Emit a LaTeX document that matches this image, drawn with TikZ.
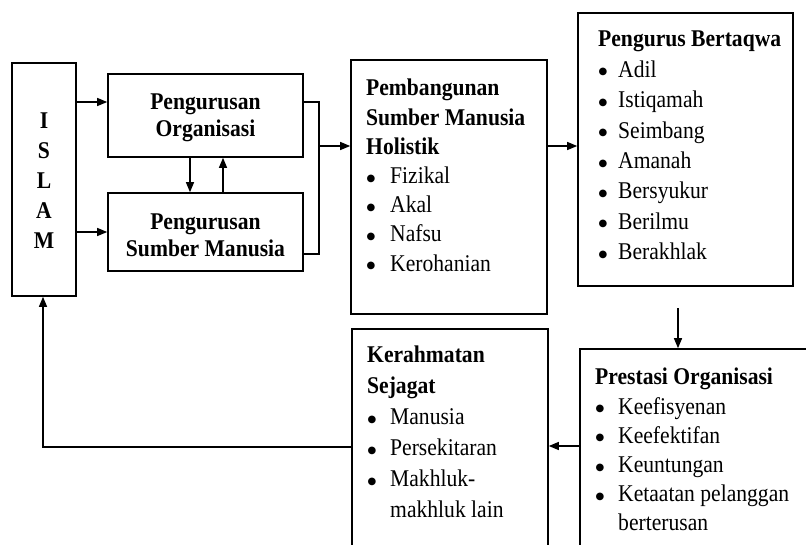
\documentclass[tikz,border=0pt]{standalone}
\usepackage{fontspec}
\setmainfont{Liberation Serif}[FakeStretch=0.9]
\newfontfamily\symfont{DejaVu Sans}
\usetikzlibrary{arrows.meta,calc}
\newcommand\bul[1][23pt]{\makebox[#1][l]{\hspace{0.5pt}\raisebox{2.4pt}{\symfont\fontsize{10}{10}\selectfont ●}}}
\tikzset{
  box/.style={draw, line width=1.6pt, inner sep=0pt},
  txt/.style={inner sep=0pt, align=left, anchor=north west},
  ln/.style={line width=1.3pt},
  arr/.style={line width=1.3pt, -{Triangle[length=10pt,width=8pt]}},
}
\begin{document}
\begin{tikzpicture}[x=1pt, y=-1pt]
\useasboundingbox (0,0) rectangle (806,544);
\fill[white] (0,0) rectangle (806,544);
\begin{scope}
\clip (0,0) rectangle (806,544);
% boxes
\node[box, minimum width=64, minimum height=233] (islam) at (44,179.5) {};
\node[align=center, inner sep=0pt, font=\fontsize{24}{30}\selectfont\bfseries] (islamt) at (44,181) {I\\S\\L\\A\\M};
\node[box, minimum width=195, minimum height=83] (po) at (205.5,115.5) {};
\node[align=center, inner sep=0pt, font=\fontsize{24}{27}\selectfont\bfseries] (pot) at (205.5,118) {Pengurusan\\Organisasi};
\node[box, minimum width=195, minimum height=78] (psm) at (205.5,232) {};
\node[align=center, inner sep=0pt, font=\fontsize{24}{27}\selectfont\bfseries] (psmt) at (205.5,235) {Pengurusan\\Sumber Manusia};
\node[box, minimum width=196, minimum height=254] (pb) at (449,187) {};
\node[txt, font=\fontsize{24}{29.2}\selectfont] (pbt) at (366,79) {\textbf{Pembangunan}\\\textbf{Sumber Manusia}\\\textbf{Holistik}\\\bul[24pt]Fizikal\\\bul[24pt]Akal\\\bul[24pt]Nafsu\\\bul[24pt]Kerohanian};
\node[box, minimum width=215, minimum height=273] (pgt) at (685.5,149.5) {};
\node[txt, font=\fontsize{24}{30.4}\selectfont] (pgtt) at (598,31) {\textbf{Pengurus Bertaqwa}\\\bul[20pt]Adil\\\bul[20pt]Istiqamah\\\bul[20pt]Seimbang\\\bul[20pt]Amanah\\\bul[20pt]Bersyukur\\\bul[20pt]Berilmu\\\bul[20pt]Berakhlak};
\node[box, minimum width=260, minimum height=230] (pres) at (710,464) {};
\node[txt, font=\fontsize{24}{29.2}\selectfont] (prest) at (595,368) {\textbf{Prestasi Organisasi}\\\bul Keefisyenan\\\bul Keefektifan\\\bul Keuntungan\\\bul Ketaatan pelanggan\\\hspace*{23pt}berterusan};
\node[box, minimum width=196, minimum height=240] (ker) at (450,449) {};
\node[txt, font=\fontsize{24}{31}\selectfont] (kert) at (367,346) {\textbf{Kerahmatan}\\\textbf{Sejagat}\\\bul Manusia\\\bul Persekitaran\\\bul Makhluk-\\\hspace*{23pt}makhluk lain};
% coordinates
\coordinate (a1) at (0,102);
\coordinate (m1) at (319,102);
\coordinate (m2) at (319,254);
\coordinate (m3) at (319,146);
\coordinate (d1) at (678,308);
\coordinate (f1) at (43,447);
\coordinate (cd) at (190,0);
\coordinate (cu) at (223,0);
% connectors
\draw[arr] (islam.east |- a1) -- (po.west |- a1);
\draw[arr] (islam.east |- psm.west) -- (psm.west);
\draw[arr] (po.south -| cd) -- (psm.north -| cd);
\draw[arr] (psm.north -| cu) -- (po.south -| cu);
\draw[ln] (po.east |- a1) -- (m1) -- (m2) -- (psm.east |- m2);
\draw[arr] (m3) -- (pb.west |- m3);
\draw[arr] (pb.east |- m3) -- (pgt.west |- m3);
\draw[arr] (d1) -- (pres.north -| d1);
\draw[arr] (pres.west |- 0,446) -- (ker.east |- 0,446);
\draw[arr] (ker.west |- f1) -- (f1) -- (islam.south -| f1);
\end{scope}
\end{tikzpicture}
\end{document}
